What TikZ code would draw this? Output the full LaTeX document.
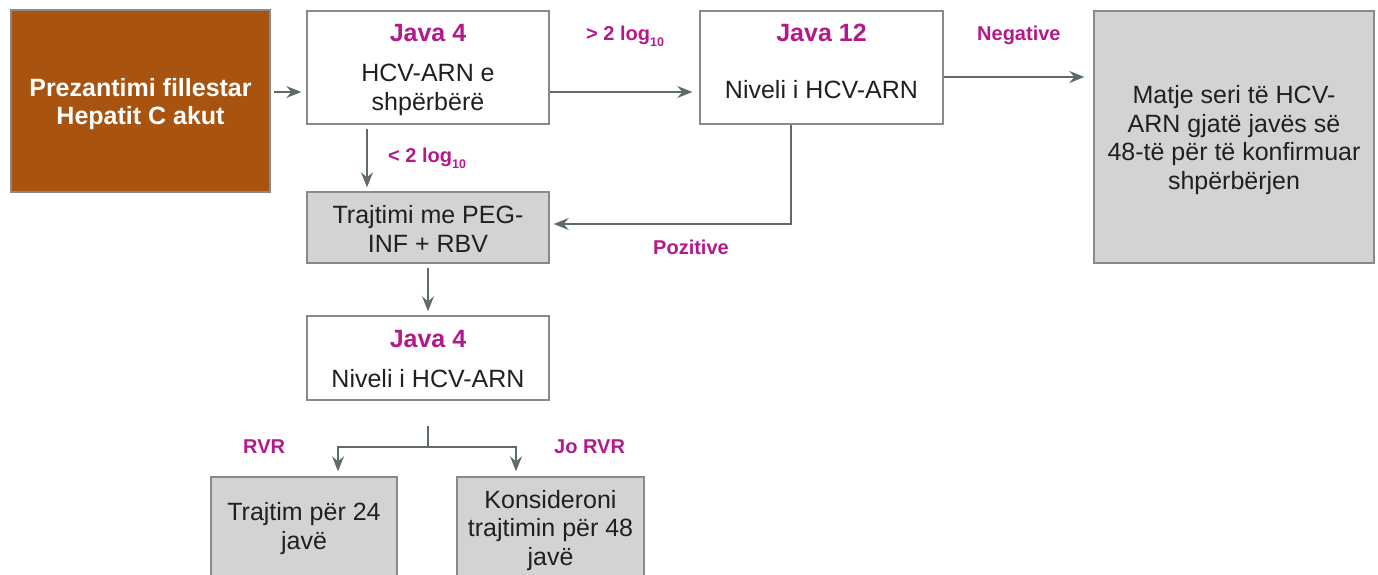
\documentclass[tikz,border=0pt]{standalone}
\usepackage{fontspec}
\setmainfont{Liberation Sans}
\usetikzlibrary{arrows.meta,calc}

\definecolor{brownbox}{RGB}{168,83,15}
\definecolor{accent}{RGB}{180,25,140}
\definecolor{panel}{RGB}{209,211,212}
\definecolor{frame}{RGB}{138,138,138}
\definecolor{wire}{RGB}{94,106,109}
\definecolor{ink}{RGB}{35,31,32}

\newcommand\bodyfont{\fontsize{25}{28.5}\selectfont}
\newcommand\headfont{\fontsize{25}{28.5}\selectfont\bfseries}
\newcommand\tagfont{\fontsize{20}{24}\selectfont\bfseries}
\newcommand\lgten{log\raisebox{-6pt}{\fontsize{12.5}{12.5}\selectfont 10}}

\begin{document}
\begin{tikzpicture}[x=1pt,y=-1pt,
  box/.style={draw=frame,line width=1.4pt,inner sep=0pt},
  plain/.style={box,fill=white},
  shaded/.style={box,fill=panel},
  head/.style={anchor=base,inner sep=0pt,text=accent,font=\headfont},
  % multi-line texts: the base anchor sits on the last line
  body/.style={anchor=base,inner sep=0pt,text=ink,font=\bodyfont,align=center},
  mid/.style={inner sep=0pt,text=ink,font=\bodyfont,align=center},
  tag/.style={anchor=base west,inner sep=0pt,text=accent,font=\tagfont},
  arr/.style={draw=wire,line width=1.3pt,-{Stealth[length=15pt,width=12pt,inset=5pt]}},
  wireline/.style={draw=wire,line width=1.3pt}]

\useasboundingbox (0,0) rectangle (1378,574);
\clip (0,0) rectangle (1378,574);

% boxes
\node[box,fill=brownbox,minimum width=259pt,minimum height=182pt] (start) at (140.5,101) {};
\node[plain,minimum width=242pt,minimum height=113pt] (w4) at (428,67.5) {};
\node[plain,minimum width=243pt,minimum height=113pt] (w12) at (821.5,67.5) {};
\node[shaded,minimum width=280pt,minimum height=252pt] (serial) at (1234,137) {};
\node[shaded,minimum width=242pt,minimum height=71pt] (treat) at (428,227.5) {};
\node[plain,minimum width=242pt,minimum height=84pt] (w4b) at (428,358) {};
\node[shaded,minimum width=186pt,minimum height=143pt] (short) at (304,548.5) {};
\node[shaded,minimum width=187pt,minimum height=143pt] (long) at (550.5,548.5) {};

% box texts
\node[mid,text=white,font=\headfont] (startt) at (140.5,104)
      {Prezantimi fillestar\\Hepatit C akut};
\node[mid] (serialt) at (1234,140)
      {Matje seri të HCV-\\ARN gjatë javës së\\48-të për të konfirmuar\\shpërbërjen};
\node[mid] (treatt) at (428,229) {Trajtimi me PEG-\\INF + RBV};
\node[head] (w4h) at (428,41) {Java 4};
\node[body] (w4t) at (428,110) {HCV-ARN e\\shpërbërë};
\node[head] (w12h) at (821.5,41) {Java 12};
\node[body] (w12t) at (821.5,98) {Niveli i HCV-ARN};
\node[head] (w4bh) at (428,347) {Java 4};
\node[body] (w4bt) at (428,387) {Niveli i HCV-ARN};
\node[body] (shortt) at (304,549) {Trajtim për 24\\javë};
\node[body] (longt) at (550.5,565) {Konsideroni\\trajtimin për 48\\javë};

% connectors
\draw[arr,shorten <=3pt,shorten >=5pt] ([yshift=9pt]start.east) -- ([yshift=-24.5pt]w4.west);
\draw[arr,shorten >=7pt] ([yshift=-24.5pt]w4.east) -- ([yshift=-24.5pt]w12.west);
\draw[arr,shorten >=9pt] ([yshift=-9.5pt]w12.east) -- ([yshift=60pt]serial.west);
\draw[arr,shorten <=4pt,shorten >=4pt] ([xshift=-61pt]w4.south) -- ([xshift=-61pt]treat.north);
\draw[arr,shorten >=4pt] ([xshift=-30.5pt]w12.south) |- ([yshift=3.5pt]treat.east);
\draw[arr,shorten <=4pt,shorten >=4pt] (treat.south) -- (w4b.north);
\coordinate (fork) at (428,447);
\draw[wireline] ([yshift=-25pt]w4b.south) -- (fork);
\draw[arr,shorten >=5pt] (fork) -| ([xshift=34pt]short.north);
\draw[arr,shorten >=5pt] (fork) -| ([xshift=-34.5pt]long.north);

% branch labels
\node[tag] (up) at (586,40) {> 2 \lgten};
\node[tag] (down) at (388,162) {< 2 \lgten};
\node[tag] (neg) at (977,40) {Negative};
\node[tag] (pos) at (653,254) {Pozitive};
\node[tag] (rvr) at (243,453) {RVR};
\node[tag] (norvr) at (554,453) {Jo RVR};
\end{tikzpicture}
\end{document}
